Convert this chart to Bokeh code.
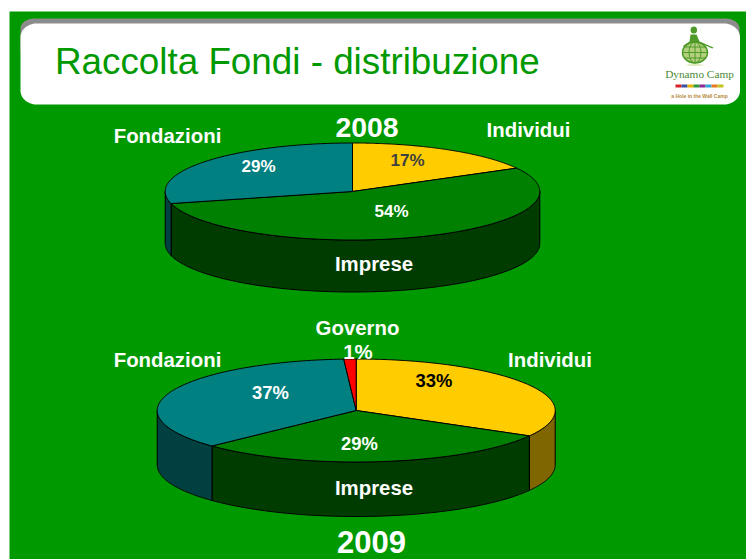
import numpy as np
from bokeh.plotting import figure
from bokeh.models import Range1d
from bokeh.core.properties import value
from bokeh.embed import file_html
from bokeh.resources import INLINE

TITLE = "Raccolta Fondi - distribuzione"
CATEGORIES_2008 = ["Individui", "Imprese", "Fondazioni"]
SHARES_2008 = [17.0, 54.0, 29.0]
LABELS_2008 = ["17%", "54%", "29%"]
CATEGORIES_2009 = ["Individui", "Imprese", "Fondazioni", "Governo"]
SHARES_2009 = [33.2, 29.7, 36.1, 1.0]
LABELS_2009 = ["33%", "29%", "37%", "1%"]

TOP = {"Individui": "#FFCC00", "Imprese": "#008000", "Fondazioni": "#008080", "Governo": "#FF0000"}
WALL = {"Individui": "#806600", "Imprese": "#003C00", "Fondazioni": "#004040", "Governo": "#800000"}
BG = "#009900"
W, H = 746, 559

p = figure(width=W, height=H, output_backend="svg", toolbar_location=None,
           x_range=Range1d(0, W), y_range=Range1d(H, 0),
           min_border=0, outline_line_color=None, background_fill_color="white",
           border_fill_color="white")
p.axis.visible = False
p.grid.visible = False

# slide background
p.quad(left=9, right=760, top=11, bottom=570, fill_color=BG, line_color=None)


def rounded(x0, y0, x1, y1, rx, ry):
    t = np.radians(np.arange(0, 91, 6))
    c, s = np.cos(t), np.sin(t)
    xs = np.concatenate([x1 - rx + rx * s, x1 - rx + rx * c, x0 + rx - rx * s, x0 + rx - rx * c])
    ys = np.concatenate([y0 + ry - ry * c, y1 - ry + ry * s, y1 - ry + ry * c, y0 + ry - ry * s])
    return xs, ys


x, y = rounded(20, 18, 739, 60, 14, 10)
p.patch(x, y, fill_color="#8C8C8C", line_color=None)
x, y = rounded(20, 23, 739.5, 104, 16, 14)
p.patch(x, y, fill_color="white", line_color=None)

p.text([54.5], [61], text=[TITLE], text_font=value("Liberation Sans"), text_font_size="36.8px",
       text_color=BG, text_baseline="middle", text_align="left")

# logo
LOGO = "#4E9A28"
p.ellipse([693.3], [29.5], width=6.5, height=7, fill_color=LOGO, line_color=None)
p.patch([690, 696, 699, 713, 712, 700, 688, 683, 683, 689],
        [34, 34, 41, 47, 48, 43, 43, 47, 45, 41], fill_color=LOGO, line_color=None)
p.ellipse([694.5], [52], width=25, height=21, fill_color="#B4CF7C", line_color=LOGO, line_width=1.5)
for yy, half in [(46.5, 10), (52, 12), (57.5, 10)]:
    p.segment([694.5 - half], [yy], [694.5 + half], [yy], line_color=LOGO, line_width=1)
p.ellipse([694.5], [52], width=12, height=21, fill_color=None, line_color=LOGO, line_width=1)
p.segment([694.5], [41.5], [694.5], [62.5], line_color=LOGO, line_width=1)
p.ellipse([694.5], [64.5], width=18, height=1.6, fill_color="#D3E3A8", line_color=None)
p.text([699], [73], text=["Dynamo Camp"], text_font=value("Liberation Serif"), text_font_size="11.3px",
       text_color="#4A8A34", text_align="center", text_baseline="middle")
stripe = ["#D8232A", "#3A4FA0", "#E8B400", "#2E9A3E", "#8A2B8F", "#2EA6D8", "#E87A1E", "#C6C21E"]
sx = np.linspace(675, 723, len(stripe) + 1)
p.quad(left=sx[:-1], right=sx[1:], top=84, bottom=87, fill_color=stripe, line_color=None)
p.text([699], [95], text=["a Hole in the Wall Camp"], text_font=value("Liberation Sans"), text_font_size="5px",
       text_font_style="bold", text_color="#B58A3A", text_align="center", text_baseline="middle")


def pie3d(cats, shares, cx, cy, rx, ry, depth):
    bounds = np.cumsum([0.0] + list(shares)) / sum(shares) * 360.0

    def ell(a, dy=0.0):
        r = np.radians(a)
        return cx + rx * np.sin(r), cy - ry * np.cos(r) + dy

    # walls: only the part of the rim that faces the viewer
    for c, a0, a1 in zip(cats, bounds[:-1], bounds[1:]):
        lo, hi = max(a0, 90.0), min(a1, 270.0)
        if hi <= lo:
            continue
        a = np.linspace(lo, hi, 120)
        xt, yt = ell(a)
        xb, yb = ell(a[::-1], depth)
        p.patch(np.concatenate([xt, xb]), np.concatenate([yt, yb]), fill_color=WALL[c],
                line_color="black", line_width=1)
    # top faces
    for c, a0, a1 in zip(cats, bounds[:-1], bounds[1:]):
        a = np.linspace(a0, a1, 180)
        xt, yt = ell(a)
        p.patch(np.concatenate([[cx], xt]), np.concatenate([[cy], yt]), fill_color=TOP[c],
                line_color="black", line_width=1)


pie3d(CATEGORIES_2008, SHARES_2008, 352, 191, 187.3, 48.5, 52)
pie3d(CATEGORIES_2009, SHARES_2009, 355.7, 410, 199, 51.5, 54.5)


def label(x, y, s, size="20.4px", color="white", font="Liberation Sans", style="bold"):
    p.text([x], [y], text=[s], text_font=value(font), text_font_size=size, text_font_style=style,
           text_color=color, text_align="center", text_baseline="middle")


label(366.5, 126.5, "2008", "28.4px")
label(371, 541, "2009", "31px")
label(167, 135.5, CATEGORIES_2008[2])
label(528, 129, CATEGORIES_2008[0])
label(373.5, 263, CATEGORIES_2008[1])
label(167, 359, CATEGORIES_2009[2])
label(549.5, 359, CATEGORIES_2009[0])
label(373.5, 487, CATEGORIES_2009[1])
label(357, 327.5, CATEGORIES_2009[3])

# the reference's 2008 percentages are horizontally condensed; 17px bold matches their width
label(407, 159.5, LABELS_2008[0], "17px", "#404040")
label(391, 211, LABELS_2008[1], "17px", "white")
label(258, 165.5, LABELS_2008[2], "17px", "white")
label(433.5, 380, LABELS_2009[0], "18.4px", "black")
label(359, 443, LABELS_2009[1], "18.4px")
label(270, 392, LABELS_2009[2], "18.4px")
label(357.5, 351.5, LABELS_2009[3], "20.4px")

open("out.html", "w").write(file_html(p, INLINE))
